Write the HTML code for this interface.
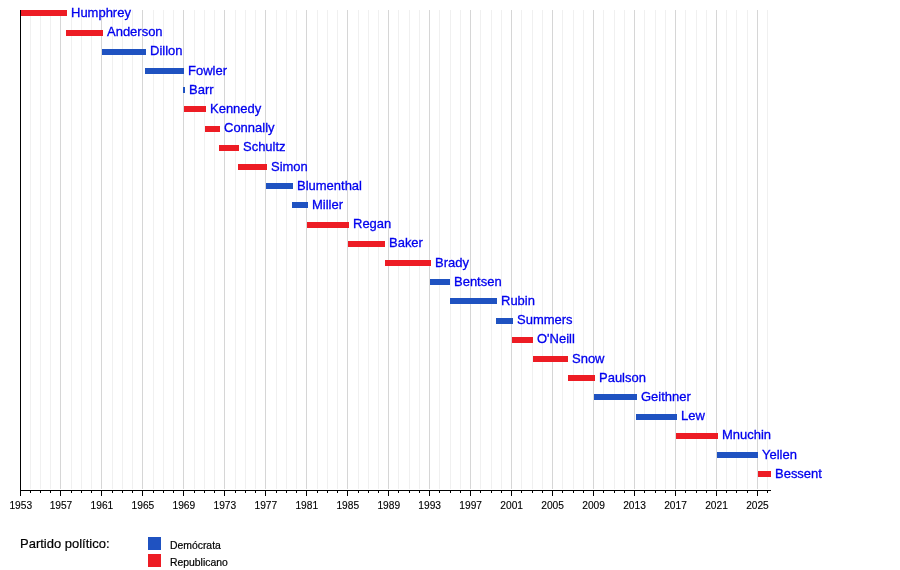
<!DOCTYPE html>
<html><head><meta charset="utf-8"><style>
html,body{margin:0;padding:0;background:#fff;width:900px;height:570px;overflow:hidden}
svg{display:block;will-change:transform}
text{font-family:"Liberation Sans",Arial,sans-serif}
.lb text{font-size:13px;fill:#0000ee;stroke:#0000ee;stroke-width:0.3px}
.ax text{font-size:10.2px;fill:#000;stroke:#000;stroke-width:0.12px}
.lg text{fill:#000;stroke:#000;stroke-width:0.2px}
</style></head><body>
<svg width="900" height="570" viewBox="0 0 900 570">
<rect width="900" height="570" fill="#fff"/>
<g shape-rendering="crispEdges">
<rect x="30" y="10" width="1" height="479" fill="#f0f0f0"/>
<rect x="40" y="10" width="1" height="479" fill="#f0f0f0"/>
<rect x="50" y="10" width="1" height="479" fill="#f0f0f0"/>
<rect x="60" y="10" width="1" height="479" fill="#d6d6d6"/>
<rect x="71" y="10" width="1" height="479" fill="#f0f0f0"/>
<rect x="81" y="10" width="1" height="479" fill="#f0f0f0"/>
<rect x="91" y="10" width="1" height="479" fill="#f0f0f0"/>
<rect x="101" y="10" width="1" height="479" fill="#d6d6d6"/>
<rect x="112" y="10" width="1" height="479" fill="#f0f0f0"/>
<rect x="122" y="10" width="1" height="479" fill="#f0f0f0"/>
<rect x="132" y="10" width="1" height="479" fill="#f0f0f0"/>
<rect x="142" y="10" width="1" height="479" fill="#d6d6d6"/>
<rect x="153" y="10" width="1" height="479" fill="#f0f0f0"/>
<rect x="163" y="10" width="1" height="479" fill="#f0f0f0"/>
<rect x="173" y="10" width="1" height="479" fill="#f0f0f0"/>
<rect x="183" y="10" width="1" height="479" fill="#d6d6d6"/>
<rect x="194" y="10" width="1" height="479" fill="#f0f0f0"/>
<rect x="204" y="10" width="1" height="479" fill="#f0f0f0"/>
<rect x="214" y="10" width="1" height="479" fill="#f0f0f0"/>
<rect x="224" y="10" width="1" height="479" fill="#d6d6d6"/>
<rect x="235" y="10" width="1" height="479" fill="#f0f0f0"/>
<rect x="245" y="10" width="1" height="479" fill="#f0f0f0"/>
<rect x="255" y="10" width="1" height="479" fill="#f0f0f0"/>
<rect x="265" y="10" width="1" height="479" fill="#d6d6d6"/>
<rect x="276" y="10" width="1" height="479" fill="#f0f0f0"/>
<rect x="286" y="10" width="1" height="479" fill="#f0f0f0"/>
<rect x="296" y="10" width="1" height="479" fill="#f0f0f0"/>
<rect x="306" y="10" width="1" height="479" fill="#d6d6d6"/>
<rect x="317" y="10" width="1" height="479" fill="#f0f0f0"/>
<rect x="327" y="10" width="1" height="479" fill="#f0f0f0"/>
<rect x="337" y="10" width="1" height="479" fill="#f0f0f0"/>
<rect x="347" y="10" width="1" height="479" fill="#d6d6d6"/>
<rect x="358" y="10" width="1" height="479" fill="#f0f0f0"/>
<rect x="368" y="10" width="1" height="479" fill="#f0f0f0"/>
<rect x="378" y="10" width="1" height="479" fill="#f0f0f0"/>
<rect x="388" y="10" width="1" height="479" fill="#d6d6d6"/>
<rect x="398" y="10" width="1" height="479" fill="#f0f0f0"/>
<rect x="409" y="10" width="1" height="479" fill="#f0f0f0"/>
<rect x="419" y="10" width="1" height="479" fill="#f0f0f0"/>
<rect x="429" y="10" width="1" height="479" fill="#d6d6d6"/>
<rect x="439" y="10" width="1" height="479" fill="#f0f0f0"/>
<rect x="450" y="10" width="1" height="479" fill="#f0f0f0"/>
<rect x="460" y="10" width="1" height="479" fill="#f0f0f0"/>
<rect x="470" y="10" width="1" height="479" fill="#d6d6d6"/>
<rect x="480" y="10" width="1" height="479" fill="#f0f0f0"/>
<rect x="491" y="10" width="1" height="479" fill="#f0f0f0"/>
<rect x="501" y="10" width="1" height="479" fill="#f0f0f0"/>
<rect x="511" y="10" width="1" height="479" fill="#d6d6d6"/>
<rect x="521" y="10" width="1" height="479" fill="#f0f0f0"/>
<rect x="532" y="10" width="1" height="479" fill="#f0f0f0"/>
<rect x="542" y="10" width="1" height="479" fill="#f0f0f0"/>
<rect x="552" y="10" width="1" height="479" fill="#d6d6d6"/>
<rect x="562" y="10" width="1" height="479" fill="#f0f0f0"/>
<rect x="573" y="10" width="1" height="479" fill="#f0f0f0"/>
<rect x="583" y="10" width="1" height="479" fill="#f0f0f0"/>
<rect x="593" y="10" width="1" height="479" fill="#d6d6d6"/>
<rect x="603" y="10" width="1" height="479" fill="#f0f0f0"/>
<rect x="614" y="10" width="1" height="479" fill="#f0f0f0"/>
<rect x="624" y="10" width="1" height="479" fill="#f0f0f0"/>
<rect x="634" y="10" width="1" height="479" fill="#d6d6d6"/>
<rect x="644" y="10" width="1" height="479" fill="#f0f0f0"/>
<rect x="655" y="10" width="1" height="479" fill="#f0f0f0"/>
<rect x="665" y="10" width="1" height="479" fill="#f0f0f0"/>
<rect x="675" y="10" width="1" height="479" fill="#d6d6d6"/>
<rect x="685" y="10" width="1" height="479" fill="#f0f0f0"/>
<rect x="696" y="10" width="1" height="479" fill="#f0f0f0"/>
<rect x="706" y="10" width="1" height="479" fill="#f0f0f0"/>
<rect x="716" y="10" width="1" height="479" fill="#d6d6d6"/>
<rect x="726" y="10" width="1" height="479" fill="#f0f0f0"/>
<rect x="736" y="10" width="1" height="479" fill="#f0f0f0"/>
<rect x="747" y="10" width="1" height="479" fill="#f0f0f0"/>
<rect x="757" y="10" width="1" height="479" fill="#d6d6d6"/>
<rect x="767" y="10" width="1" height="479" fill="#f0f0f0"/>
<rect x="20" y="10" width="47" height="6" fill="#ed1c24"/>
<rect x="66" y="30" width="37" height="6" fill="#ed1c24"/>
<rect x="102" y="49" width="44" height="6" fill="#1f52c1"/>
<rect x="145" y="68" width="39" height="6" fill="#1f52c1"/>
<rect x="183" y="87" width="2" height="6" fill="#1f52c1"/>
<rect x="184" y="106" width="22" height="6" fill="#ed1c24"/>
<rect x="205" y="126" width="15" height="6" fill="#ed1c24"/>
<rect x="219" y="145" width="20" height="6" fill="#ed1c24"/>
<rect x="238" y="164" width="29" height="6" fill="#ed1c24"/>
<rect x="266" y="183" width="27" height="6" fill="#1f52c1"/>
<rect x="292" y="202" width="16" height="6" fill="#1f52c1"/>
<rect x="307" y="222" width="42" height="6" fill="#ed1c24"/>
<rect x="348" y="241" width="37" height="6" fill="#ed1c24"/>
<rect x="385" y="260" width="46" height="6" fill="#ed1c24"/>
<rect x="430" y="279" width="20" height="6" fill="#1f52c1"/>
<rect x="450" y="298" width="47" height="6" fill="#1f52c1"/>
<rect x="496" y="318" width="17" height="6" fill="#1f52c1"/>
<rect x="512" y="337" width="21" height="6" fill="#ed1c24"/>
<rect x="533" y="356" width="35" height="6" fill="#ed1c24"/>
<rect x="568" y="375" width="27" height="6" fill="#ed1c24"/>
<rect x="594" y="394" width="43" height="6" fill="#1f52c1"/>
<rect x="636" y="414" width="41" height="6" fill="#1f52c1"/>
<rect x="676" y="433" width="42" height="6" fill="#ed1c24"/>
<rect x="717" y="452" width="41" height="6" fill="#1f52c1"/>
<rect x="758" y="471" width="13" height="6" fill="#ed1c24"/>
<rect x="20" y="10" width="1" height="486" fill="#000"/>
<rect x="20" y="490" width="751" height="1" fill="#000"/>
<rect x="20" y="491" width="1" height="5" fill="#000"/>
<rect x="30" y="491" width="1" height="2" fill="#000"/>
<rect x="40" y="491" width="1" height="2" fill="#000"/>
<rect x="50" y="491" width="1" height="2" fill="#000"/>
<rect x="60" y="491" width="1" height="5" fill="#000"/>
<rect x="71" y="491" width="1" height="2" fill="#000"/>
<rect x="81" y="491" width="1" height="2" fill="#000"/>
<rect x="91" y="491" width="1" height="2" fill="#000"/>
<rect x="101" y="491" width="1" height="5" fill="#000"/>
<rect x="112" y="491" width="1" height="2" fill="#000"/>
<rect x="122" y="491" width="1" height="2" fill="#000"/>
<rect x="132" y="491" width="1" height="2" fill="#000"/>
<rect x="142" y="491" width="1" height="5" fill="#000"/>
<rect x="153" y="491" width="1" height="2" fill="#000"/>
<rect x="163" y="491" width="1" height="2" fill="#000"/>
<rect x="173" y="491" width="1" height="2" fill="#000"/>
<rect x="183" y="491" width="1" height="5" fill="#000"/>
<rect x="194" y="491" width="1" height="2" fill="#000"/>
<rect x="204" y="491" width="1" height="2" fill="#000"/>
<rect x="214" y="491" width="1" height="2" fill="#000"/>
<rect x="224" y="491" width="1" height="5" fill="#000"/>
<rect x="235" y="491" width="1" height="2" fill="#000"/>
<rect x="245" y="491" width="1" height="2" fill="#000"/>
<rect x="255" y="491" width="1" height="2" fill="#000"/>
<rect x="265" y="491" width="1" height="5" fill="#000"/>
<rect x="276" y="491" width="1" height="2" fill="#000"/>
<rect x="286" y="491" width="1" height="2" fill="#000"/>
<rect x="296" y="491" width="1" height="2" fill="#000"/>
<rect x="306" y="491" width="1" height="5" fill="#000"/>
<rect x="317" y="491" width="1" height="2" fill="#000"/>
<rect x="327" y="491" width="1" height="2" fill="#000"/>
<rect x="337" y="491" width="1" height="2" fill="#000"/>
<rect x="347" y="491" width="1" height="5" fill="#000"/>
<rect x="358" y="491" width="1" height="2" fill="#000"/>
<rect x="368" y="491" width="1" height="2" fill="#000"/>
<rect x="378" y="491" width="1" height="2" fill="#000"/>
<rect x="388" y="491" width="1" height="5" fill="#000"/>
<rect x="398" y="491" width="1" height="2" fill="#000"/>
<rect x="409" y="491" width="1" height="2" fill="#000"/>
<rect x="419" y="491" width="1" height="2" fill="#000"/>
<rect x="429" y="491" width="1" height="5" fill="#000"/>
<rect x="439" y="491" width="1" height="2" fill="#000"/>
<rect x="450" y="491" width="1" height="2" fill="#000"/>
<rect x="460" y="491" width="1" height="2" fill="#000"/>
<rect x="470" y="491" width="1" height="5" fill="#000"/>
<rect x="480" y="491" width="1" height="2" fill="#000"/>
<rect x="491" y="491" width="1" height="2" fill="#000"/>
<rect x="501" y="491" width="1" height="2" fill="#000"/>
<rect x="511" y="491" width="1" height="5" fill="#000"/>
<rect x="521" y="491" width="1" height="2" fill="#000"/>
<rect x="532" y="491" width="1" height="2" fill="#000"/>
<rect x="542" y="491" width="1" height="2" fill="#000"/>
<rect x="552" y="491" width="1" height="5" fill="#000"/>
<rect x="562" y="491" width="1" height="2" fill="#000"/>
<rect x="573" y="491" width="1" height="2" fill="#000"/>
<rect x="583" y="491" width="1" height="2" fill="#000"/>
<rect x="593" y="491" width="1" height="5" fill="#000"/>
<rect x="603" y="491" width="1" height="2" fill="#000"/>
<rect x="614" y="491" width="1" height="2" fill="#000"/>
<rect x="624" y="491" width="1" height="2" fill="#000"/>
<rect x="634" y="491" width="1" height="5" fill="#000"/>
<rect x="644" y="491" width="1" height="2" fill="#000"/>
<rect x="655" y="491" width="1" height="2" fill="#000"/>
<rect x="665" y="491" width="1" height="2" fill="#000"/>
<rect x="675" y="491" width="1" height="5" fill="#000"/>
<rect x="685" y="491" width="1" height="2" fill="#000"/>
<rect x="696" y="491" width="1" height="2" fill="#000"/>
<rect x="706" y="491" width="1" height="2" fill="#000"/>
<rect x="716" y="491" width="1" height="5" fill="#000"/>
<rect x="726" y="491" width="1" height="2" fill="#000"/>
<rect x="736" y="491" width="1" height="2" fill="#000"/>
<rect x="747" y="491" width="1" height="2" fill="#000"/>
<rect x="757" y="491" width="1" height="5" fill="#000"/>
<rect x="767" y="491" width="1" height="2" fill="#000"/>
<rect x="148" y="537" width="13" height="13" fill="#1f52c1"/>
<rect x="148" y="554" width="13" height="13" fill="#ed1c24"/>
</g>
<g class="lb">
<text transform="translate(71 17) scale(1 1.05)">Humphrey</text>
<text transform="translate(107 36) scale(1 1.05)">Anderson</text>
<text transform="translate(150 55) scale(1 1.05)">Dillon</text>
<text transform="translate(188 75) scale(1 1.05)">Fowler</text>
<text transform="translate(189 94) scale(1 1.05)">Barr</text>
<text transform="translate(210 113) scale(1 1.05)">Kennedy</text>
<text transform="translate(224 132) scale(1 1.05)">Connally</text>
<text transform="translate(243 151) scale(1 1.05)">Schultz</text>
<text transform="translate(271 171) scale(1 1.05)">Simon</text>
<text transform="translate(297 190) scale(1 1.05)">Blumenthal</text>
<text transform="translate(312 209) scale(1 1.05)">Miller</text>
<text transform="translate(353 228) scale(1 1.05)">Regan</text>
<text transform="translate(389 247) scale(1 1.05)">Baker</text>
<text transform="translate(435 267) scale(1 1.05)">Brady</text>
<text transform="translate(454 286) scale(1 1.05)">Bentsen</text>
<text transform="translate(501 305) scale(1 1.05)">Rubin</text>
<text transform="translate(517 324) scale(1 1.05)">Summers</text>
<text transform="translate(537 343) scale(1 1.05)">O&#39;Neill</text>
<text transform="translate(572 363) scale(1 1.05)">Snow</text>
<text transform="translate(599 382) scale(1 1.05)">Paulson</text>
<text transform="translate(641 401) scale(1 1.05)">Geithner</text>
<text transform="translate(681 420) scale(1 1.05)">Lew</text>
<text transform="translate(722 439) scale(1 1.05)">Mnuchin</text>
<text transform="translate(762 459) scale(1 1.05)">Yellen</text>
<text transform="translate(775 478) scale(1 1.05)">Bessent</text>
</g>
<g class="ax">
<text x="20.80" y="509" text-anchor="middle">1953</text>
<text x="60.97" y="509" text-anchor="middle">1957</text>
<text x="101.94" y="509" text-anchor="middle">1961</text>
<text x="142.91" y="509" text-anchor="middle">1965</text>
<text x="183.88" y="509" text-anchor="middle">1969</text>
<text x="224.85" y="509" text-anchor="middle">1973</text>
<text x="265.82" y="509" text-anchor="middle">1977</text>
<text x="306.79" y="509" text-anchor="middle">1981</text>
<text x="347.76" y="509" text-anchor="middle">1985</text>
<text x="388.73" y="509" text-anchor="middle">1989</text>
<text x="429.70" y="509" text-anchor="middle">1993</text>
<text x="470.67" y="509" text-anchor="middle">1997</text>
<text x="511.64" y="509" text-anchor="middle">2001</text>
<text x="552.61" y="509" text-anchor="middle">2005</text>
<text x="593.58" y="509" text-anchor="middle">2009</text>
<text x="634.55" y="509" text-anchor="middle">2013</text>
<text x="675.52" y="509" text-anchor="middle">2017</text>
<text x="716.49" y="509" text-anchor="middle">2021</text>
<text x="757.47" y="509" text-anchor="middle">2025</text>
</g>
<g class="lg">
<text transform="translate(20 548) scale(1 1.05)" font-size="13">Partido político:</text>
<text x="170" y="549" font-size="10.4">Demócrata</text>
<text x="170" y="566" font-size="10.4">Republicano</text>
</g>
</svg>
</body></html>
